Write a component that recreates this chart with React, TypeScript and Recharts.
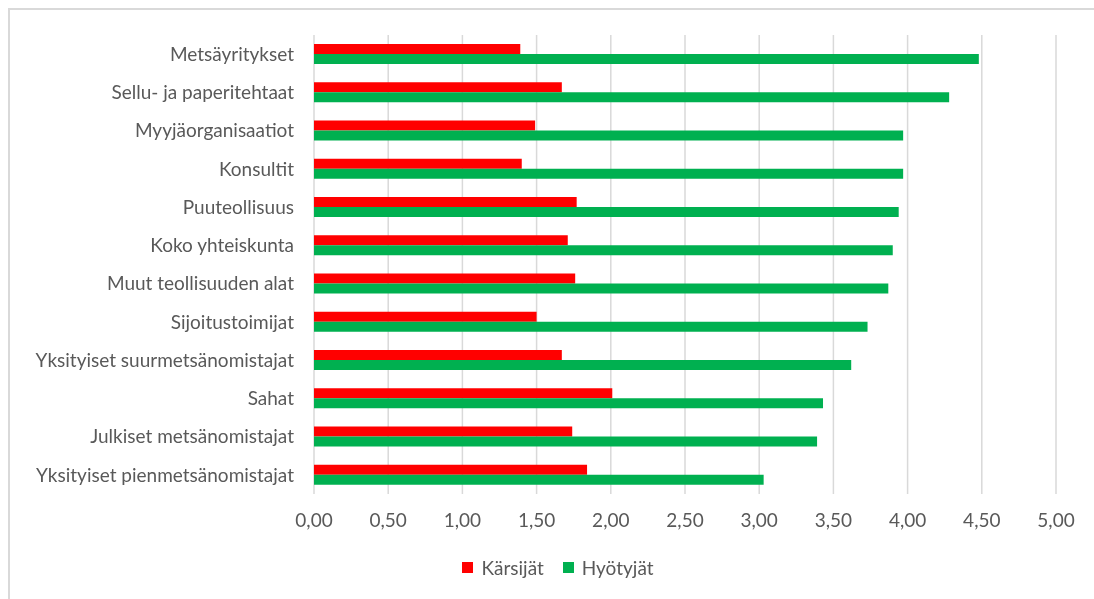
import { Bar, BarChart, CartesianGrid, Legend, XAxis, YAxis } from "recharts";

const categories = [
  "Metsäyritykset",
  "Sellu- ja paperitehtaat",
  "Myyjäorganisaatiot",
  "Konsultit",
  "Puuteollisuus",
  "Koko yhteiskunta",
  "Muut teollisuuden alat",
  "Sijoitustoimijat",
  "Yksityiset suurmetsänomistajat",
  "Sahat",
  "Julkiset metsänomistajat",
  "Yksityiset pienmetsänomistajat",
];
const karsijat = [1.39, 1.67, 1.49, 1.4, 1.77, 1.71, 1.76, 1.5, 1.67, 2.01, 1.74, 1.84];
const hyotyjat = [4.48, 4.28, 3.97, 3.97, 3.94, 3.9, 3.87, 3.73, 3.62, 3.43, 3.39, 3.03];
const xTicks = [0, 0.5, 1, 1.5, 2, 2.5, 3, 3.5, 4, 4.5, 5];

const RED = "#FF0000";
const GREEN = "#00B050";
const TEXT = "#595959";
const FONT = "Lato, 'Open Sans', sans-serif";
const FONT_SIZE = 19;

const data = categories.map((name, i) => ({ name, karsijat: karsijat[i], hyotyjat: hyotyjat[i] }));

function LegendContent() {
  const items = [
    { label: "Kärsijät", color: RED },
    { label: "Hyötyjät", color: GREEN },
  ];
  return (
    <div
      style={{
        display: "flex",
        justifyContent: "center",
        gap: 19,
        fontFamily: FONT,
        fontSize: FONT_SIZE,
        color: TEXT,
        paddingLeft: 50,
      }}
    >
      {items.map((it) => (
        <span key={it.label} style={{ display: "flex", alignItems: "center", gap: 8 }}>
          <span style={{ width: 11, height: 11, background: it.color, display: "inline-block" }} />
          {it.label}
        </span>
      ))}
    </div>
  );
}

export default function App() {
  return (
    <div style={{ width: 1084, height: 589, paddingTop: 2, borderLeft: "2px solid #d9d9d9", background: "#fff" }}>
      {/* top frame line runs off the right edge */}
      <div style={{ position: "fixed", top: 8, left: 8, right: 0, height: 2, background: "#d9d9d9" }} />
      <BarChart
        width={1084}
        height={587}
        data={data}
        layout="vertical"
        barSize={10}
        barGap={0}
        margin={{ top: 25, right: 38, left: 0, bottom: 17 }}
      >
        <CartesianGrid horizontal={false} stroke="#d9d9d9" strokeWidth={1.5} />
        <XAxis
          type="number"
          domain={[0, 5]}
          ticks={xTicks}
          tickFormatter={(v: number) => v.toFixed(2).replace(".", ",")}
          axisLine={false}
          tickLine={false}
          tickSize={0}
          tickMargin={20}
          height={62}
          tick={{ fill: TEXT, fontSize: FONT_SIZE, fontFamily: FONT }}
        />
        <YAxis
          type="category"
          dataKey="name"
          width={304}
          axisLine={false}
          tickLine={false}
          tickSize={0}
          tickMargin={20}
          interval={0}
          tick={{ fill: TEXT, fontSize: FONT_SIZE, fontFamily: FONT }}
        />
        <Legend verticalAlign="bottom" height={24} content={<LegendContent />} />
        <Bar dataKey="karsijat" name="Kärsijät" fill={RED} isAnimationActive={false} />
        <Bar dataKey="hyotyjat" name="Hyötyjät" fill={GREEN} isAnimationActive={false} />
      </BarChart>
    </div>
  );
}
